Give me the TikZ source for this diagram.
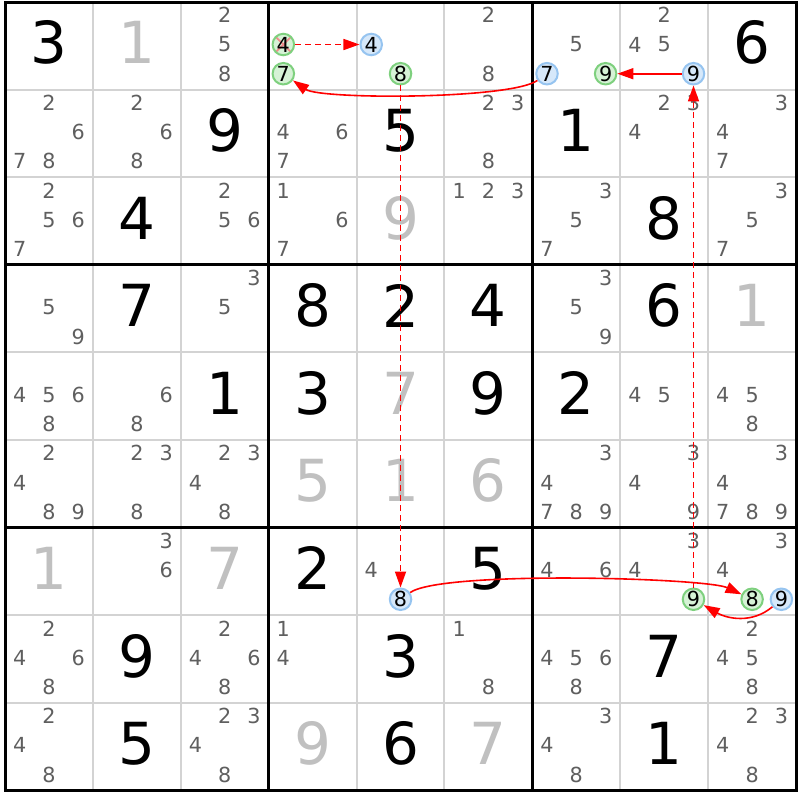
\documentclass[tikz,border=0pt]{standalone}
\usepackage{fontspec}
\setmainfont{DejaVu Sans}
\usetikzlibrary{arrows.meta}
\definecolor{canddigit}{RGB}{95,95,95}
\definecolor{lightdigit}{RGB}{192,192,192}
\definecolor{gridgray}{RGB}{211,211,211}
\definecolor{onedge}{RGB}{126,208,126}
\definecolor{onfill}{RGB}{214,242,214}
\definecolor{offedge}{RGB}{150,196,240}
\definecolor{offfill}{RGB}{214,232,250}
\definecolor{linkred}{RGB}{255,0,0}
\definecolor{crossred}{RGB}{240,140,140}
\begin{document}
\begin{tikzpicture}[x=0.879cm, y=0.876cm,
  given/.style={font=\fontsize{16.5}{18}\selectfont, inner sep=0pt},
  solved/.style={given, text=lightdigit},
  cand/.style={font=\fontsize{5.9}{7}\selectfont, text=canddigit, inner sep=0pt},
  ring/.style={circle, inner sep=0pt, minimum size=0.215cm, line width=0.02cm, font=\fontsize{5.9}{7}\selectfont},
  onring/.style={ring, draw=onedge, fill=onfill},
  offring/.style={ring, draw=offedge, fill=offfill},
  struckring/.style={onring, path picture={
    \draw[crossred, line width=0.018cm] (path picture bounding box.south west) -- (path picture bounding box.north east)
      (path picture bounding box.north west) -- (path picture bounding box.south east);}},
  link/.style={linkred, line width=0.016cm, -{Triangle[length=0.16cm,width=0.11cm]}},
  weak/.style={link, dash pattern=on 0.06cm off 0.04cm}]
\fill[white] (-0.057,0.023) rectangle (9.045,-9.110);
\useasboundingbox (-0.057,0.023) rectangle (9.045,-9.110);
% grid
\foreach \i in {1,2,4,5,7,8} {
  \draw[gridgray, line width=0.02cm] (\i,0) -- (\i,-9);
  \draw[gridgray, line width=0.02cm] (0,-\i) -- (9,-\i);
}
\foreach \i in {0,3,6,9} {
  \draw[line width=0.03cm, line cap=rect] (\i,0) -- (\i,-9);
  \draw[line width=0.03cm, line cap=rect] (0,-\i) -- (9,-\i);
}
% placed digits
\foreach \r/\c/\v in {0/0/3, 0/8/6, 1/2/9, 1/4/5, 1/6/1, 2/1/4, 2/7/8, 3/1/7, 3/3/8, 3/4/2, 3/5/4, 3/7/6,
  4/2/1, 4/3/3, 4/5/9, 4/6/2, 6/3/2, 6/5/5, 7/1/9, 7/4/3, 7/7/7, 8/1/5, 8/4/6, 8/7/1}
  \node[given] (v\r\c) at (\c+0.5,-\r-0.465) {\v};
\foreach \r/\c/\v in {0/1/1, 2/4/9, 3/8/1, 4/4/7, 5/3/5, 5/4/1, 5/5/6, 6/0/1, 6/2/7, 8/3/9, 8/5/7}
  \node[solved] (v\r\c) at (\c+0.5,-\r-0.465) {\v};
% candidates
\foreach \r/\c/\cands in {0/2/{2,5,8}, 0/5/{2,8}, 0/6/{5}, 0/7/{2,4,5},
  1/0/{2,6,7,8}, 1/1/{2,6,8}, 1/3/{4,6,7}, 1/5/{2,3,8}, 1/7/{2,3,4}, 1/8/{3,4,7},
  2/0/{2,5,6,7}, 2/2/{2,5,6}, 2/3/{1,6,7}, 2/5/{1,2,3}, 2/6/{3,5,7}, 2/8/{3,5,7},
  3/0/{5,9}, 3/2/{3,5}, 3/6/{3,5,9},
  4/0/{4,5,6,8}, 4/1/{6,8}, 4/7/{4,5}, 4/8/{4,5,8},
  5/0/{2,4,8,9}, 5/1/{2,3,8}, 5/2/{2,3,4,8}, 5/6/{3,4,7,8,9}, 5/7/{3,4,9}, 5/8/{3,4,7,8,9},
  6/1/{3,6}, 6/4/{4}, 6/6/{4,6}, 6/7/{3,4}, 6/8/{3,4},
  7/0/{2,4,6,8}, 7/2/{2,4,6,8}, 7/3/{1,4}, 7/5/{1,8}, 7/6/{4,5,6,8}, 7/8/{2,4,5,8},
  8/0/{2,4,8}, 8/2/{2,3,4,8}, 8/6/{3,4,8}, 8/8/{2,3,4,8}}
  \foreach \d in \cands {
    \pgfmathsetmacro\cx{\c+(2*mod(\d-1,3)+1)/6}
    \pgfmathsetmacro\cy{\r+(2*floor((\d-1)/3)+1)/6-0.015}
    \node[cand] (p\r\c\d) at (\cx,-\cy) {\d};
  }
% chain candidates
\foreach \r/\c/\d/\kind in {0/3/4/struckring, 0/3/7/onring, 0/4/4/offring, 0/4/8/onring, 0/6/7/offring,
  0/6/9/onring, 0/7/9/offring, 6/4/8/offring, 6/7/9/onring, 6/8/8/onring, 6/8/9/offring} {
  \pgfmathsetmacro\cx{\c+(2*mod(\d-1,3)+1)/6}
  \pgfmathsetmacro\cy{\r+(2*floor((\d-1)/3)+1)/6-0.015}
  \node[\kind] (n\r\c\d) at (\cx,-\cy) {\d};
}
% links
\draw[weak] (n034) -- (n044);
\draw[link] (n067) to[out=215, in=-35, looseness=0.35] (n037);
\draw[link] (n079) -- (n069);
\draw[weak] (n048) -- (n648);
\draw[weak] (n679) -- (n079);
\draw[link] (n648) to[out=35, in=155, looseness=0.3] (n688);
\draw[link] (n689) to[out=220, in=-30] (n679);
\end{tikzpicture}
\end{document}
